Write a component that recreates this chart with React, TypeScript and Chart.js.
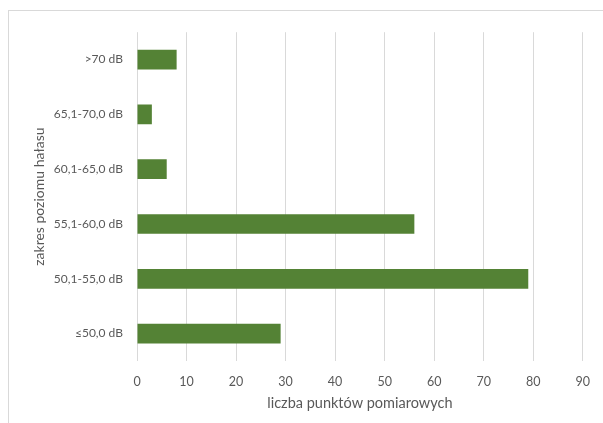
import React, { useEffect, useRef } from "react";
import { Chart, registerables } from "chart.js";

Chart.register(...registerables);

const categories = ["≤50,0 dB", "50,1-55,0 dB", "55,1-60,0 dB", "60,1-65,0 dB", "65,1-70,0 dB", ">70 dB"];
const values = [29, 79, 56, 6, 3, 8];
const xTicks = [0, 10, 20, 30, 40, 50, 60, 70, 80, 90];
const xTitle = "liczba punktów pomiarowych";
const yTitle = "zakres poziomu hałasu";

export default function App() {
  const ref = useRef<HTMLCanvasElement | null>(null);
  useEffect(() => {
    if (!ref.current) return;
    const font = "Lato, 'Open Sans', sans-serif";
    const chart = new Chart(ref.current, {
      type: "bar",
      data: {
        labels: categories,
        datasets: [
          {
            data: values,
            backgroundColor: "#548235",
            borderWidth: 0,
            categoryPercentage: 1,
            barPercentage: 0.36,
          },
        ],
      },
      options: {
        indexAxis: "y",
        animation: false,
        responsive: false,
        maintainAspectRatio: false,
        layout: { padding: { top: 16, right: 18, left: 0, bottom: 0 } },
        plugins: { legend: { display: false }, tooltip: { enabled: false } },
        scales: {
          x: {
            type: "linear",
            min: xTicks[0],
            max: xTicks[xTicks.length - 1],
            afterBuildTicks: (s: any) => {
              s.ticks = xTicks.map((v) => ({ value: v }));
            },
            afterFit: (s: any) => {
              s.height = 62;
            },
            grid: { color: "#d9d9d9", lineWidth: 1, drawTicks: false },
            border: { display: false },
            ticks: { color: "#595959", font: { family: font, size: 12.5 }, padding: 13 },
            title: {
              display: true,
              text: xTitle,
              color: "#595959",
              font: { family: font, size: 14.5 },
              padding: { top: 4, bottom: 11 },
            },
          },
          y: {
            reverse: true,
            afterFit: (s: any) => {
              s.width = 128;
            },
            grid: { display: false, drawTicks: false },
            border: { display: false },
            ticks: { color: "#595959", font: { family: font, size: 12 }, padding: 14 },
            title: {
              display: true,
              text: yTitle,
              color: "#595959",
              font: { family: font, size: 14 },
              padding: { top: 22, bottom: 4 },
            },
          },
        },
      },
    });
    return () => chart.destroy();
  }, []);
  return (
    <div
      style={{
        position: "absolute",
        left: 8,
        top: 10,
        width: 594,
        height: 412,
        borderLeft: "1px solid #d9d9d9",
        borderTop: "1px solid #d9d9d9",
        background: "#fff",
        overflow: "hidden",
      }}
    >
      <canvas ref={ref} width={594} height={412} style={{ display: "block" }} />
    </div>
  );
}
